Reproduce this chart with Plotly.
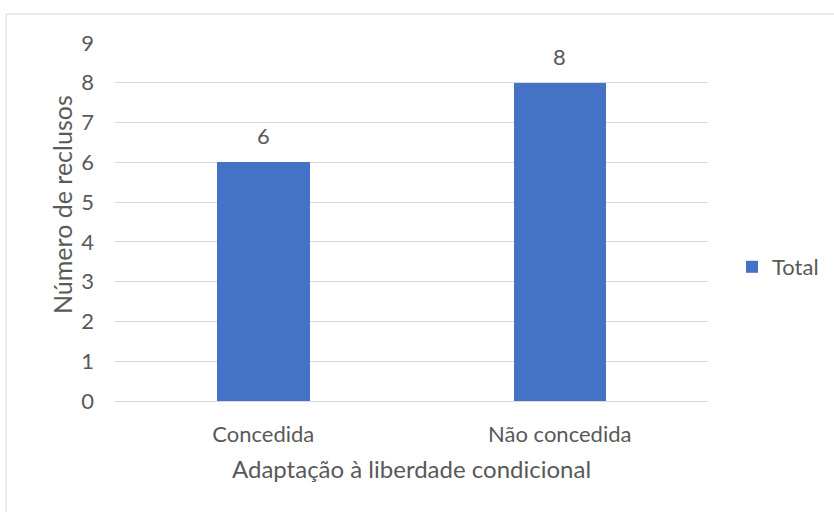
import plotly.graph_objects as go

categories = ["Concedida", "Não concedida"]
values = [6, 8]
series_name = "Total"
y_title = "Número de reclusos"
x_title = "Adaptação à liberdade condicional"

FONT = "Lato, 'Open Sans', sans-serif"
GREY = "#595959"

fig = go.Figure()
fig.add_trace(go.Bar(
    x=categories, y=values, name=series_name,
    marker=dict(color="#4472C4", line=dict(width=0)),
    width=0.312,
    showlegend=True,
))
for c, v in zip(categories, values):
    fig.add_annotation(x=c, y=v, text=str(v), showarrow=False,
                       xanchor="center", yanchor="bottom", yshift=11,
                       font=dict(size=22, color=GREY, family=FONT))

W, H = 834, 512
L, R, T, B = 115, 126, 43, 111
pw, ph = W - L - R, H - T - B

fig.add_annotation(xref="paper", yref="paper", x=(62 - L) / pw, y=1 - (205 - T) / ph,
                   text=y_title, textangle=-90, showarrow=False,
                   xanchor="center", yanchor="middle",
                   font=dict(size=25, color=GREY, family=FONT))

fig.update_layout(
    width=W, height=H,
    margin=dict(l=L, r=R, t=T, b=B, autoexpand=False),
    paper_bgcolor="white", plot_bgcolor="white",
    font=dict(family=FONT, color=GREY, size=22),
    showlegend=True,
    legend=dict(x=(732 - L) / pw, y=1 - (267 - T) / ph, xanchor="left", yanchor="middle",
                font=dict(size=22, color=GREY, family=FONT), itemwidth=30,
                bgcolor="rgba(0,0,0,0)"),
    bargap=0,
)
fig.update_yaxes(
    range=[0, 9], dtick=1, showgrid=True, gridcolor="#d9d9d9", gridwidth=1,
    zeroline=False, showline=False, ticks="",
    tickfont=dict(size=22, color=GREY, family=FONT), ticklabelstandoff=20,
)
fig.update_xaxes(
    showgrid=False, showline=True, linecolor="#d9d9d9", linewidth=1, ticks="",
    tickfont=dict(size=22, color=GREY, family=FONT), ticklabelstandoff=14,
    title=dict(text=x_title, font=dict(size=24, color=GREY, family=FONT), standoff=14),
)
fig.add_shape(type="rect", xref="paper", yref="paper",
              x0=(6 - L) / pw, x1=1.6, y0=-0.6, y1=1 + (T - 14) / ph,
              line=dict(color="#d9d9d9", width=1), fillcolor="rgba(0,0,0,0)", layer="below")

fig.write_html("out.html", config={"displayModeBar": False},
               post_script="document.body.style.margin='0';document.body.style.overflow='hidden';")
